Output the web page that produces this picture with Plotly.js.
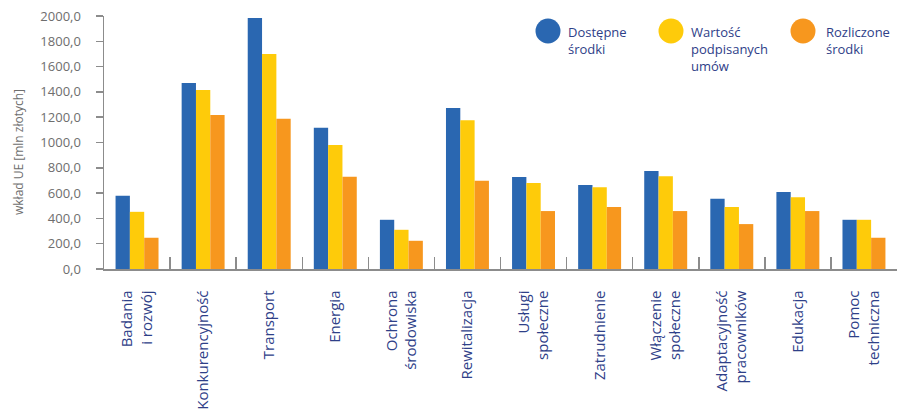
<!DOCTYPE html>
<html>
<head>
<meta charset="utf-8">
<script src="https://cdn.plot.ly/plotly-3.0.1.min.js"></script>
<style>html,body{margin:0;padding:0;background:#fff;}#chart{width:897px;height:409px;}</style>
</head>
<body>
<div id="chart"></div>
<script>
var categories = ["Badania<br>i rozwój", "Konkurencyjność", "Transport", "Energia", "Ochrona<br>środowiska", "Rewitalizacja", "Usługi<br>społeczne", "Zatrudnienie", "Włączenie<br>społeczne", "Adaptacyjność<br>pracowników", "Edukacja", "Pomoc<br>techniczna"];
var dostepne = [579, 1471, 1984, 1116, 389, 1273, 727, 665, 774, 555, 608, 389];
var podpisane = [452, 1415, 1700, 981, 310, 1176, 679, 647, 734, 490, 568, 389];
var rozliczone = [247, 1218, 1187, 729, 223, 697, 458, 490, 458, 355, 458, 247];
var seriesNames = ["Dostępne<br>środki", "Wartość<br>podpisanych<br>umów", "Rozliczone<br>środki"];
var colors = ["#2A67B1", "#FECB0A", "#F7971E"];
var yTicks = [0, 200, 400, 600, 800, 1000, 1200, 1400, 1600, 1800, 2000];
var yTitle = "wkład UE [mln złotych]";

var W = 897, H = 409;
var mL = 104, mR = 0, mT = 16, mB = 140;
var pw = W - mL - mR, ph = H - mT - mB;
function px(x) { return (x - mL) / pw; }
function py(y) { return (H - mB - y) / ph; }

var series = [dostepne, podpisane, rozliczone];
var data = series.map(function (vals, i) {
  return {
    type: 'bar', x: categories, y: vals, name: seriesNames[i],
    marker: {color: colors[i]}, showlegend: false, hoverinfo: 'x+y'
  };
});

var legendX = [548, 671, 803];
var textX = [566, 689, 824];
var shapes = [], annotations = [];
for (var i = 0; i < 3; i++) {
  shapes.push({
    type: 'circle', xref: 'paper', yref: 'paper',
    xsizemode: 'pixel', ysizemode: 'pixel',
    xanchor: px(legendX[i]), yanchor: py(31),
    x0: -12.5, x1: 12.5, y0: -12.5, y1: 12.5,
    fillcolor: colors[i], line: {width: 0}
  });
  annotations.push({
    xref: 'paper', yref: 'paper', x: px(textX[i]), y: py(21),
    xanchor: 'left', yanchor: 'top', align: 'left', showarrow: false,
    text: seriesNames[i], font: {family: 'Open Sans', size: 13, color: '#2E4088'}
  });
}
annotations.push({
  xref: 'paper', yref: 'paper', x: px(18), y: py(152),
  xanchor: 'center', yanchor: 'middle', textangle: -90, showarrow: false,
  text: yTitle, font: {family: 'Open Sans', size: 12, color: '#6E6E6E'}
});

var layout = {
  width: W, height: H,
  margin: {l: mL, r: mR, t: mT, b: mB},
  paper_bgcolor: '#fff', plot_bgcolor: '#fff',
  separators: ', ',
  barmode: 'group', bargap: 0.35, bargroupgap: 0,
  font: {family: 'Open Sans', color: '#6E6E6E'},
  xaxis: {
    type: 'category', showline: true, linecolor: '#8C8C8C', linewidth: 1.5,
    ticks: 'inside', tickson: 'boundaries', ticklen: 12, tickcolor: '#8C8C8C', tickwidth: 1.5,
    tickangle: -90, ticklabelstandoff: 14,
    tickfont: {family: 'Open Sans', size: 15, color: '#2E4088'},
    showgrid: false, zeroline: false, automargin: false, fixedrange: true
  },
  yaxis: {
    range: [0, 2000], tickvals: yTicks, tickformat: '.1f',
    showline: true, linecolor: '#8C8C8C', linewidth: 1.5,
    ticks: 'outside', ticklen: 7, tickcolor: '#8C8C8C', tickwidth: 1.5,
    ticklabelstandoff: 12,
    tickfont: {family: 'Open Sans', size: 13, color: '#6E6E6E'},
    showgrid: false, zeroline: false, automargin: false, fixedrange: true
  },
  shapes: shapes,
  annotations: annotations
};

Plotly.newPlot('chart', data, layout, {displayModeBar: false, staticPlot: true});
</script>
</body>
</html>
